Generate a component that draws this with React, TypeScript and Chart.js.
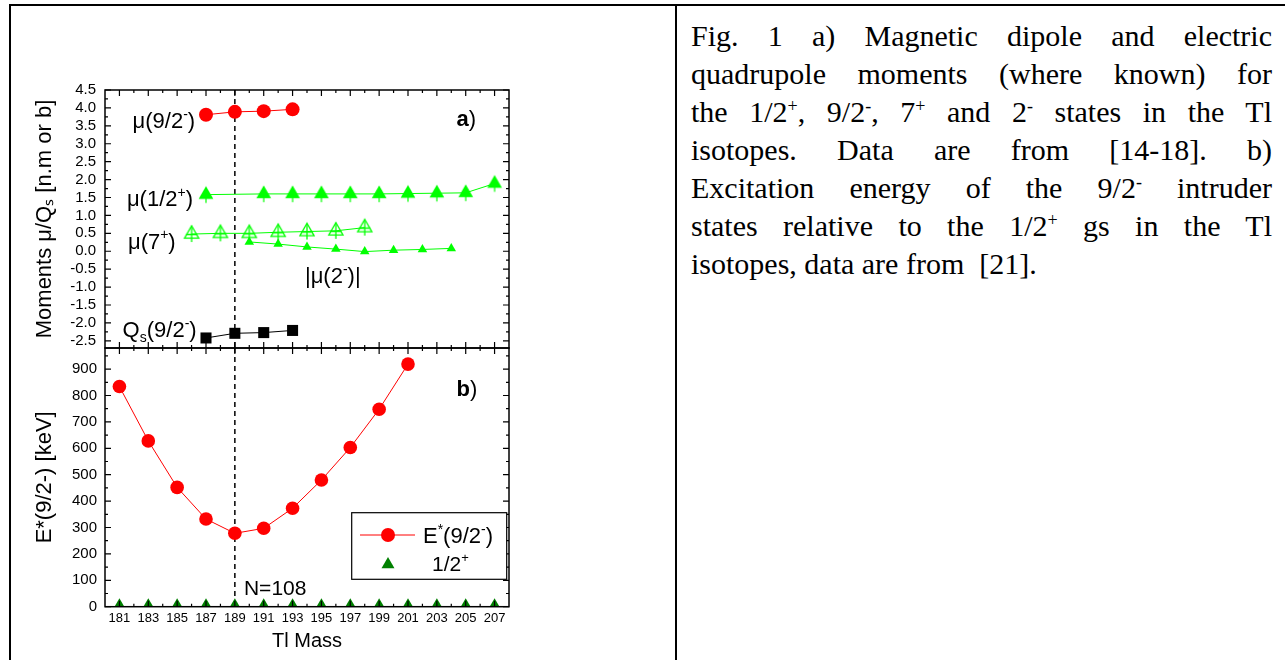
import React, { useEffect, useRef } from 'react';
import { Chart, registerables } from 'chart.js';

Chart.register(...registerables);

const SANS = '"Liberation Sans", Arial, Helvetica, sans-serif';
const SERIF = '"Liberation Serif", "Times New Roman", Times, serif';

// ---------- axes ----------
const massTicks = [181, 183, 185, 187, 189, 191, 193, 195, 197, 199, 201, 203, 205, 207];
const massRange = [180, 208];
const dividerMass = 189;
const momentTicks = [-2.5, -2.0, -1.5, -1.0, -0.5, 0.0, 0.5, 1.0, 1.5, 2.0, 2.5, 3.0, 3.5, 4.0, 4.5];
const momentRange = [-2.7, 4.5];
const energyTicks = [0, 100, 200, 300, 400, 500, 600, 700, 800, 900];
const energyRange = [0, 980];

// ---------- panel a ----------
const mu92Mass = [187, 189, 191, 193];
const mu92Values = [3.81, 3.89, 3.91, 3.96];
const mu12Mass = [187, 191, 193, 195, 197, 199, 201, 203, 205, 207];
const mu12Values = [1.58, 1.6, 1.6, 1.6, 1.6, 1.6, 1.61, 1.62, 1.63, 1.89];
const mu7Mass = [186, 188, 190, 192, 194, 196, 198];
const mu7Values = [0.48, 0.5, 0.5, 0.53, 0.55, 0.57, 0.66];
const mu2Mass = [190, 192, 194, 196, 198, 200, 202, 204];
const mu2Values = [0.26, 0.2, 0.12, 0.06, -0.01, 0.03, 0.05, 0.08];
const qsMass = [187, 189, 191, 193];
const qsValues = [-2.42, -2.29, -2.27, -2.21];

// ---------- panel b ----------
const e92Mass = [181, 183, 185, 187, 189, 191, 193, 195, 197, 199, 201];
const e92Values = [834, 628, 452, 332, 278, 297, 373, 480, 603, 748, 919];
const gsMass = [181, 183, 185, 187, 189, 191, 193, 195, 197, 199, 201, 203, 205, 207];
const gsValues = [0, 0, 0, 0, 0, 0, 0, 0, 0, 0, 0, 0, 0, 0];

type Seg = { t: string; sup?: boolean; sub?: boolean; bold?: boolean };
type Label = { segs: Seg[]; x: number; y: number; align: 'left' | 'right'; size: number };

const labelsA: Label[] = [
  { segs: [{ t: 'μ(9/2' }, { t: '-', sup: true }, { t: ')' }], x: 186.25, y: 3.65, align: 'right', size: 22 },
  { segs: [{ t: 'μ(1/2' }, { t: '+', sup: true }, { t: ')' }], x: 186.1, y: 1.48, align: 'right', size: 22 },
  { segs: [{ t: 'μ(7' }, { t: '+', sup: true }, { t: ')' }], x: 184.9, y: 0.29, align: 'right', size: 22 },
  { segs: [{ t: '|μ(2' }, { t: '-', sup: true }, { t: ')|' }], x: 193.86, y: -0.66, align: 'left', size: 22 },
  { segs: [{ t: 'Q' }, { t: 's', sub: true }, { t: '(9/2' }, { t: '-', sup: true }, { t: ')' }], x: 186.35, y: -2.18, align: 'right', size: 22 },
  { segs: [{ t: 'a', bold: true }, { t: ')' }], x: 204.37, y: 3.72, align: 'left', size: 22 },
];
const labelsB: Label[] = [
  { segs: [{ t: 'b', bold: true }, { t: ')' }], x: 204.37, y: 829, align: 'left', size: 22 },
  { segs: [{ t: 'N=108' }], x: 189.63, y: 71, align: 'left', size: 21 },
];

function pts(xs: number[], ys: number[]) {
  return xs.map((x, i) => ({ x, y: ys[i] }));
}

function drawRich(ctx: CanvasRenderingContext2D, segs: Seg[], x: number, y: number, size: number, align: 'left' | 'right') {
  ctx.save();
  ctx.fillStyle = '#000';
  ctx.textBaseline = 'alphabetic';
  ctx.textAlign = 'left';
  const fontOf = (s: Seg) => `${s.bold ? 'bold ' : ''}${s.sup || s.sub ? Math.round(size * 0.62) : size}px ${SANS}`;
  const widths = segs.map((s) => {
    ctx.font = fontOf(s);
    return ctx.measureText(s.t).width;
  });
  const total = widths.reduce((a, b) => a + b, 0);
  let cx = align === 'left' ? x : x - total;
  const baseline = y + size * 0.358;
  segs.forEach((s, i) => {
    ctx.font = fontOf(s);
    const dy = s.sup ? -size * 0.42 : s.sub ? size * 0.22 : 0;
    ctx.fillText(s.t, cx, baseline + dy);
    cx += widths[i];
  });
  ctx.restore();
}

function tri(g: CanvasRenderingContext2D, cx: number, cy: number, r: number) {
  g.beginPath();
  g.moveTo(cx, cy - r);
  g.lineTo(cx + r * 0.866, cy + r / 2);
  g.lineTo(cx - r * 0.866, cy + r / 2);
  g.closePath();
}

function makeFilledTriBar(color: string) {
  const c = document.createElement('canvas');
  c.width = 20;
  c.height = 28;
  const g = c.getContext('2d')!;
  const cx = 10, cy = 14, r = 8.5;
  g.fillStyle = color;
  tri(g, cx, cy, r);
  g.fill();
  g.strokeStyle = color;
  g.lineWidth = 1.2;
  g.beginPath();
  g.moveTo(cx, cy);
  g.lineTo(cx, cy + r / 2 + 4);
  g.stroke();
  return c;
}

function makeOpenTriCross(color: string) {
  const c = document.createElement('canvas');
  c.width = 20;
  c.height = 28;
  const g = c.getContext('2d')!;
  const cx = 10, cy = 14, r = 8.2;
  g.strokeStyle = color;
  g.lineWidth = 1.3;
  tri(g, cx, cy, r);
  g.stroke();
  g.beginPath();
  g.moveTo(cx - 5.5, cy + 0.5);
  g.lineTo(cx + 5.5, cy + 0.5);
  g.moveTo(cx, cy - r);
  g.lineTo(cx, cy + r / 2 + 4);
  g.stroke();
  return c;
}

function minorsOf(major: number[], lo: number, hi: number) {
  const step = major[1] - major[0];
  const out: number[] = [];
  const cand = [major[0] - step / 2, ...major.map((v) => v + step / 2)];
  cand.forEach((v) => {
    if (v > lo + 1e-9 && v < hi - 1e-9) out.push(v);
  });
  return out;
}

function makeFramePlugin(yMajor: number[], yRange: number[], labels: Label[], withLegend: boolean) {
  return {
    id: 'frameTicks',
    beforeDatasetsDraw(chart: any) {
      const { ctx, chartArea: ca, scales } = chart;
      const px = scales.x.getPixelForValue(dividerMass);
      ctx.save();
      ctx.strokeStyle = '#000';
      ctx.lineWidth = 1.5;
      ctx.setLineDash([5, 4]);
      ctx.beginPath();
      ctx.moveTo(px, ca.top);
      ctx.lineTo(px, ca.bottom);
      ctx.stroke();
      ctx.restore();
    },
    afterDatasetsDraw(chart: any) {
      const { ctx, chartArea: ca, scales } = chart;
      const xs = scales.x, ys = scales.y;
      ctx.save();
      ctx.strokeStyle = '#000';
      ctx.lineWidth = 1.5;
      ctx.strokeRect(ca.left, ca.top, ca.right - ca.left, ca.bottom - ca.top);
      ctx.lineWidth = 1.2;
      ctx.beginPath();
      const xMinor = minorsOf(massTicks, massRange[0], massRange[1]);
      const yMinor = minorsOf(yMajor, yRange[0], yRange[1]);
      const xt = (v: number, L: number) => {
        const p = xs.getPixelForValue(v);
        ctx.moveTo(p, ca.top);
        ctx.lineTo(p, ca.top + L);
        ctx.moveTo(p, ca.bottom);
        ctx.lineTo(p, ca.bottom - L);
      };
      const yt = (v: number, L: number) => {
        const p = ys.getPixelForValue(v);
        ctx.moveTo(ca.left, p);
        ctx.lineTo(ca.left + L, p);
        ctx.moveTo(ca.right, p);
        ctx.lineTo(ca.right - L, p);
      };
      massTicks.forEach((v) => xt(v, 6));
      xMinor.forEach((v) => xt(v, 3));
      yMajor.forEach((v) => yt(v, 6));
      yMinor.forEach((v) => yt(v, 3));
      ctx.stroke();
      ctx.restore();

      labels.forEach((l) => {
        drawRich(ctx, l.segs, xs.getPixelForValue(l.x), ys.getPixelForValue(l.y), l.size, l.align);
      });

      if (withLegend) {
        const w = 155, h = 66.6;
        const left = ca.right - 2.3 - w;
        const top = ca.bottom - 94;
        ctx.save();
        ctx.fillStyle = '#fff';
        ctx.fillRect(left, top, w, h);
        ctx.strokeStyle = '#000';
        ctx.lineWidth = 1.2;
        ctx.strokeRect(left, top, w, h);
        const r1 = top + 22.3;
        ctx.strokeStyle = '#ff0000';
        ctx.lineWidth = 1;
        ctx.beginPath();
        ctx.moveTo(left + 8.3, r1);
        ctx.lineTo(left + 63.3, r1);
        ctx.stroke();
        ctx.fillStyle = '#ff0000';
        ctx.beginPath();
        ctx.arc(left + 36.3, r1, 7, 0, Math.PI * 2);
        ctx.fill();
        const r2 = top + 50.3;
        ctx.fillStyle = '#008000';
        tri(ctx, left + 36.3, r2 + 1.5, 7.5);
        ctx.fill();
        ctx.restore();
        drawRich(ctx, [{ t: 'E' }, { t: '*', sup: true }, { t: '(9/2' }, { t: '-', sup: true }, { t: ')' }], left + 71.3, r1, 22, 'left');
        drawRich(ctx, [{ t: '1/2' }, { t: '+', sup: true }], left + 80.3, r2, 21, 'left');
      }
    },
  };
}

function setTicks(values: number[]) {
  return (scale: any) => {
    scale.ticks = values.map((v) => ({ value: v }));
  };
}

function fitY(width: number) {
  return (s: any) => {
    s.width = width;
    s.paddingTop = 0;
    s.paddingBottom = 0;
  };
}

export default function App() {
  const refA = useRef<HTMLCanvasElement>(null);
  const refB = useRef<HTMLCanvasElement>(null);

  useEffect(() => {
    const triBar = makeFilledTriBar('#00ff00');
    const triCross = makeOpenTriCross('#00ff00');

    const chartA = new Chart(refA.current!, {
      type: 'line',
      data: {
        datasets: [
          {
            data: pts(mu92Mass, mu92Values),
            borderColor: '#ff0000',
            borderWidth: 1,
            pointStyle: 'circle',
            pointRadius: 7,
            pointBackgroundColor: '#ff0000',
            pointBorderWidth: 0,
          },
          {
            data: pts(mu12Mass, mu12Values),
            borderColor: '#00ff00',
            borderWidth: 1,
            pointStyle: triBar as any,
            pointRadius: 8,
            pointBorderWidth: 0,
          },
          {
            data: pts(mu7Mass, mu7Values),
            borderColor: '#00ff00',
            borderWidth: 1,
            pointStyle: triCross as any,
            pointRadius: 8,
            pointBorderWidth: 0,
          },
          {
            data: pts(mu2Mass, mu2Values),
            borderColor: '#00ff00',
            borderWidth: 1,
            pointStyle: 'triangle',
            pointRadius: 5.5,
            pointBackgroundColor: '#00ff00',
            pointBorderWidth: 0,
          },
          {
            data: pts(qsMass, qsValues),
            borderColor: '#000000',
            borderWidth: 1,
            pointStyle: 'rect',
            pointRadius: 7.8,
            pointBackgroundColor: '#000000',
            pointBorderWidth: 0,
          },
        ],
      },
      options: {
        animation: false,
        responsive: false,
        maintainAspectRatio: false,
        layout: { autoPadding: false, padding: { left: 0, right: 167, top: 90, bottom: 2 } },
        plugins: { legend: { display: false }, tooltip: { enabled: false } },
        elements: { line: { tension: 0, fill: false } },
        scales: {
          x: { type: 'linear', min: massRange[0], max: massRange[1], display: false },
          y: {
            type: 'linear',
            min: momentRange[0],
            max: momentRange[1],
            afterBuildTicks: setTicks(momentTicks),
            afterFit: fitY(105),
            grid: { display: false, drawTicks: false },
            border: { display: false },
            ticks: {
              padding: 9,
              autoSkip: false,
              color: '#000',
              font: { family: SANS, size: 15 },
              callback: (v: any) => Number(v).toFixed(1),
            },
            title: {
              display: true,
              text: 'Moments μ/Qₛ [n.m or b]',
              color: '#000',
              font: { family: SANS, size: 22 },
              padding: { top: 32, bottom: 0 },
            },
          },
        },
      } as any,
      plugins: [makeFramePlugin(momentTicks, momentRange, labelsA, false)],
    });

    const chartB = new Chart(refB.current!, {
      type: 'line',
      data: {
        datasets: [
          {
            data: pts(e92Mass, e92Values),
            borderColor: '#ff0000',
            borderWidth: 1,
            pointStyle: 'circle',
            pointRadius: 6.8,
            pointBackgroundColor: '#ff0000',
            pointBorderWidth: 0,
          },
          {
            data: pts(gsMass, gsValues),
            showLine: false,
            borderColor: '#008000',
            pointStyle: 'triangle',
            pointRadius: 8.5,
            pointBackgroundColor: '#008000',
            pointBorderWidth: 0,
          },
        ],
      },
      options: {
        animation: false,
        responsive: false,
        maintainAspectRatio: false,
        layout: { autoPadding: false, padding: { left: 0, right: 167, top: 8, bottom: 0 } },
        plugins: { legend: { display: false }, tooltip: { enabled: false } },
        elements: { line: { tension: 0, fill: false } },
        scales: {
          x: {
            type: 'linear',
            min: massRange[0],
            max: massRange[1],
            afterBuildTicks: setTicks(massTicks),
            afterFit: (s: any) => {
              s.height = 53.3;
              s.paddingLeft = 0;
              s.paddingRight = 0;
            },
            grid: { display: false, drawTicks: false },
            border: { display: false },
            ticks: {
              padding: 3.5,
              autoSkip: false,
              maxRotation: 0,
              color: '#000',
              font: { family: SANS, size: 13 },
              callback: (v: any) => String(v),
            },
            title: {
              display: true,
              text: 'Tl Mass',
              color: '#000',
              font: { family: SANS, size: 20 },
              padding: { top: 0, bottom: 7 },
            },
          },
          y: {
            type: 'linear',
            min: energyRange[0],
            max: energyRange[1],
            afterBuildTicks: setTicks(energyTicks),
            afterFit: fitY(105),
            grid: { display: false, drawTicks: false },
            border: { display: false },
            ticks: {
              padding: 8,
              autoSkip: false,
              color: '#000',
              font: { family: SANS, size: 15 },
              callback: (v: any) => String(v),
            },
            title: {
              display: true,
              text: 'E*(9/2-) [keV]',
              color: '#000',
              font: { family: SANS, size: 22 },
              padding: { top: 32, bottom: 0 },
            },
          },
        },
      } as any,
      plugins: [makeFramePlugin(energyTicks, energyRange, labelsB, true)],
    });

    return () => {
      chartA.destroy();
      chartB.destroy();
    };
  }, []);

  const sup = (s: string) => <sup style={{ fontSize: '0.6em', lineHeight: 0, verticalAlign: '0.55em' }}>{s}</sup>;
  const lineStyle: React.CSSProperties = { textAlign: 'justify', textAlignLast: 'justify' as any, whiteSpace: 'normal' };

  return (
    <div style={{ position: 'absolute', left: 0, top: 0, width: 1285, height: 660, background: '#fff', overflow: 'hidden' }}>
      <div style={{ position: 'absolute', left: 9, top: 4, width: 1276, height: 2, background: '#000' }} />
      <div style={{ position: 'absolute', left: 9, top: 4, width: 2, height: 656, background: '#000' }} />
      <div style={{ position: 'absolute', left: 675, top: 4, width: 2, height: 656, background: '#000' }} />
      <canvas ref={refA} width={676} height={350} style={{ position: 'absolute', left: 0, top: 0 }} />
      <canvas ref={refB} width={676} height={320} style={{ position: 'absolute', left: 0, top: 340 }} />
      <div
        style={{
          position: 'absolute',
          left: 691,
          top: 17,
          width: 581,
          fontFamily: SERIF,
          fontSize: 30,
          lineHeight: '38px',
          color: '#000',
        }}
      >
        <div style={lineStyle}>Fig. 1 a) Magnetic dipole and electric</div>
        <div style={lineStyle}>quadrupole moments (where known) for</div>
        <div style={lineStyle}>
          the 1/2{sup('+')}, 9/2{sup('-')}, 7{sup('+')} and 2{sup('-')} states in the Tl
        </div>
        <div style={lineStyle}>isotopes. Data are from [14-18]. b)</div>
        <div style={lineStyle}>
          Excitation energy of the 9/2{sup('-')} intruder
        </div>
        <div style={lineStyle}>
          states relative to the 1/2{sup('+')} gs in the Tl
        </div>
        <div style={{ textAlign: 'left' }}>isotopes, data are from{'\u00a0'} [21].</div>
      </div>
    </div>
  );
}
